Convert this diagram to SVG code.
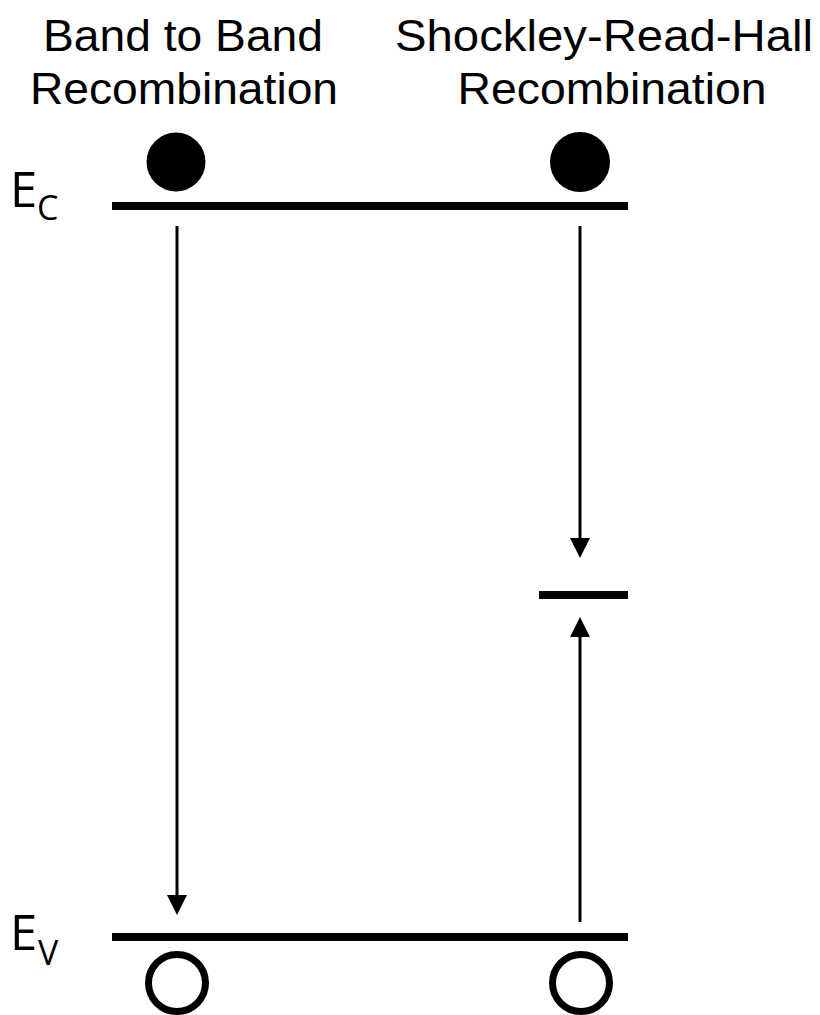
<svg xmlns="http://www.w3.org/2000/svg" width="820" height="1015" viewBox="0 0 820 1015">
  <style>
    .title { font-family: "Liberation Sans", Arial, sans-serif; font-size: 44px; fill: #000; text-anchor: middle; }
    .lvl { font-family: "Open Sans", "Noto Sans", sans-serif; fill: #000; }
    .band { stroke: #000; stroke-width: 8; fill: none; }
    .arrow { stroke: #000; stroke-width: 3; fill: none; marker-end: url(#ah); }
    .electron { fill: #000; }
    .hole { fill: none; stroke: #000; stroke-width: 7; }
  </style>
  <defs>
    <marker id="ah" markerUnits="userSpaceOnUse" markerWidth="20" markerHeight="20" viewBox="0 0 20 20" refX="10" refY="10" orient="auto">
      <path d="M0,0 L20,10 L0,20 z" fill="#000"/>
    </marker>
  </defs>
  <rect width="820" height="1015" fill="#fff"/>

  <g id="title-btb">
    <text class="title" x="183" y="51" textLength="280" lengthAdjust="spacingAndGlyphs">Band to Band</text>
    <text class="title" x="184" y="104" textLength="308" lengthAdjust="spacingAndGlyphs">Recombination</text>
  </g>
  <g id="title-srh">
    <text class="title" x="604" y="51" textLength="418" lengthAdjust="spacingAndGlyphs">Shockley-Read-Hall</text>
    <text class="title" x="612" y="104" textLength="309" lengthAdjust="spacingAndGlyphs">Recombination</text>
  </g>

  <g id="Ec">
    <line class="band" x1="112" y1="206" x2="628" y2="206"/>
    <text class="lvl" x="10" y="207" font-size="49">E</text>
    <text class="lvl" x="37" y="220" font-size="34">C</text>
  </g>
  <g id="Ev">
    <line class="band" x1="112" y1="937" x2="628" y2="937"/>
    <text class="lvl" x="10" y="950" font-size="49">E</text>
    <text class="lvl" x="38" y="965" font-size="34">V</text>
  </g>
  <g id="trap">
    <line class="band" x1="539" y1="595" x2="628" y2="595"/>
  </g>

  <g id="electron-btb"><circle class="electron" cx="176" cy="162" r="29.5"/></g>
  <g id="electron-srh"><circle class="electron" cx="580" cy="162" r="30"/></g>
  <g id="hole-btb"><circle class="hole" cx="177" cy="983" r="28.5"/></g>
  <g id="hole-srh"><circle class="hole" cx="581" cy="983" r="28.5"/></g>

  <g id="connectors">
    <line class="arrow" x1="177" y1="226" x2="177" y2="905"/>
    <line class="arrow" x1="580" y1="226" x2="580" y2="548"/>
    <line class="arrow" x1="580" y1="922" x2="580" y2="627"/>
  </g>
</svg>
